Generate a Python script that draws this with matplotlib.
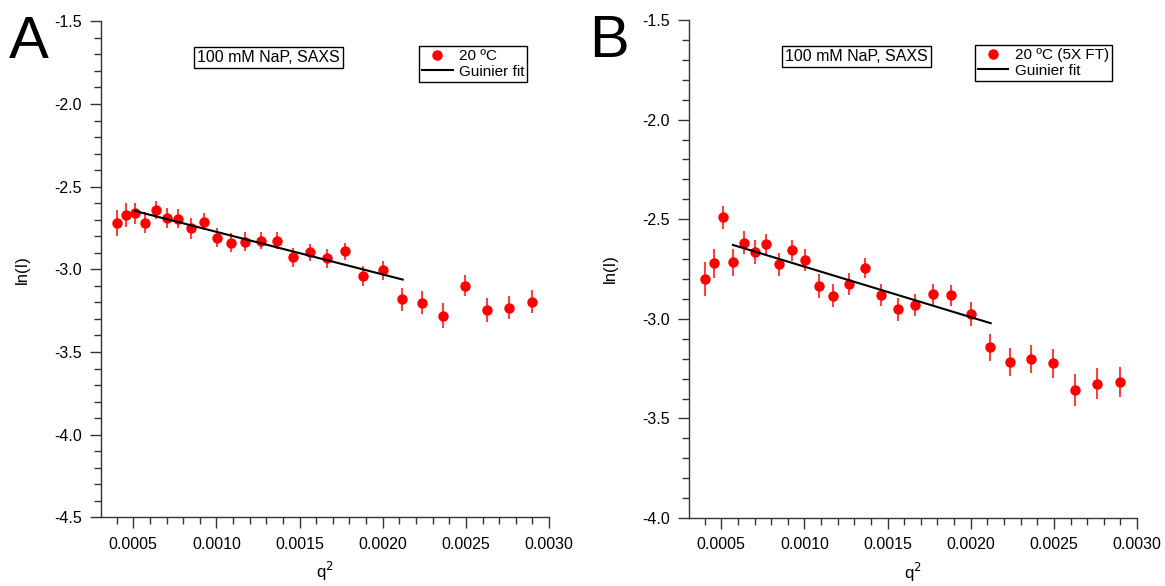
import matplotlib.pyplot as plt
from matplotlib.ticker import MultipleLocator, FormatStrFormatter

plt.rcParams['font.family'] = ['Liberation Sans', 'DejaVu Sans']

# q^2 values (same grid for both panels)
q2 = [0.000400, 0.000454, 0.000510, 0.000570, 0.000635, 0.000703, 0.000770,
      0.000845, 0.000923, 0.001003, 0.001087, 0.001173, 0.001266, 0.001362,
      0.001458, 0.001560, 0.001664, 0.001772, 0.001882, 0.001999, 0.002117,
      0.002237, 0.002363, 0.002493, 0.002624, 0.002758, 0.002898]

# panel A: 20 C
lnI_a = [-2.721, -2.671, -2.660, -2.717, -2.641, -2.691, -2.695, -2.753, -2.711,
         -2.809, -2.838, -2.832, -2.826, -2.827, -2.926, -2.898, -2.934, -2.892,
         -3.038, -3.006, -3.181, -3.201, -3.281, -3.098, -3.245, -3.231, -3.197]
err_a = [0.077, 0.070, 0.064, 0.063, 0.057, 0.060, 0.057, 0.061, 0.052, 0.058,
         0.057, 0.056, 0.054, 0.052, 0.058, 0.054, 0.057, 0.053, 0.060, 0.059,
         0.070, 0.069, 0.075, 0.064, 0.073, 0.070, 0.069]
fit_a_x = [0.00051, 0.00212]
fit_a_y = [-2.647, -3.062]

# panel B: 20 C (5X FT)
lnI_b = [-2.801, -2.721, -2.491, -2.717, -2.617, -2.664, -2.626, -2.727, -2.656,
         -2.704, -2.835, -2.883, -2.823, -2.744, -2.882, -2.952, -2.930, -2.877,
         -2.882, -2.977, -3.143, -3.216, -3.203, -3.224, -3.357, -3.325, -3.318]
err_b = [0.085, 0.074, 0.057, 0.068, 0.057, 0.059, 0.053, 0.059, 0.052, 0.054,
         0.059, 0.059, 0.055, 0.050, 0.056, 0.057, 0.056, 0.054, 0.054, 0.059,
         0.069, 0.072, 0.071, 0.072, 0.079, 0.078, 0.076]
fit_b_x = [0.00057, 0.00212]
fit_b_y = [-2.629, -3.022]

panels = [
    dict(letter='A', y=lnI_a, e=err_a, fx=fit_a_x, fy=fit_a_y, lab='20 ºC',
         ylim=(-4.5, -1.5), rect=[0.0867, 0.1172, 0.3846, 0.8464],
         letter_x=-0.205, leg_x=0.71),
    dict(letter='B', y=lnI_b, e=err_b, fx=fit_b_x, fy=fit_b_y, lab='20 ºC (5X FT)',
         ylim=(-4.0, -1.5), rect=[0.5914, 0.1160, 0.3846, 0.8498],
         letter_x=-0.222, leg_x=0.638),
]

fig = plt.figure(figsize=(11.65, 5.86), dpi=100)

for p in panels:
    ax = fig.add_axes(p['rect'])
    ax.errorbar(q2, p['y'], yerr=p['e'], fmt='none', ecolor=(1, 0, 0, 0.75),
                elinewidth=1.5, capsize=0)
    ax.plot(q2, p['y'], 'o', color='#ff0000', markersize=6.5, label=p['lab'])
    ax.plot(p['fx'], p['fy'], color='black', lw=1.5, label='Guinier fit')

    ax.set_xlim(0.000306, 0.0030)
    ax.set_ylim(*p['ylim'])
    for s in ['top', 'right']:
        ax.spines[s].set_visible(False)
    for s in ['left', 'bottom']:
        ax.spines[s].set_color('#333333')
        ax.spines[s].set_linewidth(1.0)
    ax.xaxis.set_major_locator(MultipleLocator(0.0005))
    ax.xaxis.set_minor_locator(MultipleLocator(0.0001))
    ax.yaxis.set_major_locator(MultipleLocator(0.5))
    ax.yaxis.set_minor_locator(MultipleLocator(0.1))
    ax.xaxis.set_major_formatter(FormatStrFormatter('%.4f'))
    ax.yaxis.set_major_formatter(FormatStrFormatter('%.1f'))
    ax.tick_params(which='major', direction='out', length=8, width=1,
                   color='#333333', labelsize=11.5, pad=6)
    ax.tick_params(which='minor', direction='out', length=5, width=1,
                   color='#333333')
    ax.set_xlabel('q$^{2}$', fontsize=12, labelpad=6)
    ax.set_ylabel('ln(I)', fontsize=12, labelpad=17)

    ax.text(0.215, 0.927, '100 mM NaP, SAXS', transform=ax.transAxes,
            fontsize=11.5, ha='left', va='center',
            bbox=dict(boxstyle='square,pad=0.2', fc='white', ec='black', lw=1))
    leg = ax.legend(loc='upper left', bbox_to_anchor=(p['leg_x'], 0.95),
                    fontsize=11, frameon=True, fancybox=False,
                    edgecolor='black', framealpha=1,
                    borderpad=0.2, handlelength=2.0, handletextpad=0.4,
                    labelspacing=0.1, borderaxespad=0)
    leg.get_frame().set_linewidth(1)

    ax.text(p['letter_x'], 1.012, p['letter'], transform=ax.transAxes,
            fontsize=43, ha='left', va='top')

fig.savefig('out.png', dpi=100)
